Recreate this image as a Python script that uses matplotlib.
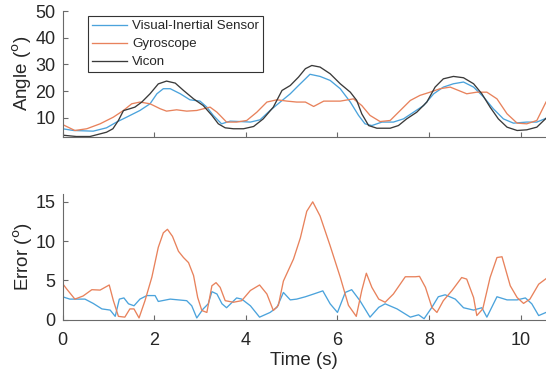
import matplotlib
matplotlib.use("Agg")
import matplotlib.pyplot as plt

plt.rcParams['font.family'] = ['Liberation Sans', 'DejaVu Sans']

# ---- Angle panel data ----
t_vicon = [0.0, 0.3, 0.6, 0.96, 1.1, 1.22, 1.33, 1.47, 1.58, 1.73, 1.91, 2.09, 2.27, 2.46, 2.64, 2.86,
           3.07, 3.26, 3.4, 3.55, 3.73, 3.95, 4.17, 4.38, 4.6, 4.79, 4.97, 5.15, 5.3, 5.44, 5.62,
           5.84, 6.06, 6.28, 6.42, 6.53, 6.68, 6.86, 7.15, 7.33, 7.51, 7.73, 7.95, 8.13, 8.31, 8.53,
           8.75, 8.97, 9.15, 9.33, 9.51, 9.7, 9.92, 10.13, 10.35, 10.55]
vicon = [3.5, 3.0, 3.0, 4.6, 5.9, 9.0, 12.7, 13.4, 14.0, 15.9, 19.0, 22.7, 23.75, 23.0, 20.25, 17.1,
         14.6, 10.9, 7.75, 6.25, 5.9, 5.9, 6.75, 9.6, 14.0, 20.25, 22.1, 25.25, 28.4, 29.6, 29.0,
         26.5, 22.75, 19.6, 16.5, 11.5, 7.1, 6.1, 6.1, 7.1, 9.6, 12.1, 15.9, 21.5, 24.6, 25.5,
         25.0, 22.75, 19.0, 14.0, 9.6, 6.5, 5.25, 5.5, 6.5, 9.8]

t_vis = [0.0, 0.24, 0.67, 0.96, 1.18, 1.4, 1.69, 1.91, 2.06, 2.2, 2.35, 2.57, 2.78, 3.0, 3.15, 3.29,
         3.47, 3.66, 3.88, 4.1, 4.31, 4.53, 4.75, 4.97, 5.15, 5.3, 5.4, 5.62, 5.84, 6.06, 6.28,
         6.46, 6.6, 6.75, 6.97, 7.22, 7.44, 7.66, 7.88, 8.1, 8.31, 8.53, 8.75, 8.97, 9.19, 9.4,
         9.62, 9.84, 10.13, 10.35, 10.55]
vis = [5.9, 5.25, 5.0, 6.25, 8.4, 10.25, 12.75, 15.25, 19.0, 20.9, 20.9, 19.0, 16.75, 16.25, 14.0, 10.9,
       7.75, 8.75, 8.6, 8.4, 9.25, 12.75, 15.9, 19.0, 22.1, 24.6, 26.3, 25.5, 24.0, 20.9, 15.9,
       10.9, 7.75, 7.1, 8.4, 8.4, 9.6, 12.1, 14.6, 19.0, 21.5, 22.75, 23.4, 21.5, 17.75, 13.4,
       9.6, 8.0, 8.4, 8.4, 9.8]

t_gyro = [0.0, 0.27, 0.53, 0.82, 1.11, 1.33, 1.51, 1.69, 1.91, 2.13, 2.27, 2.49, 2.71, 2.93, 3.22,
          3.37, 3.58, 3.8, 4.02, 4.24, 4.46, 4.68, 4.9, 5.11, 5.3, 5.48, 5.7, 6.06, 6.35, 6.53,
          6.71, 6.93, 7.15, 7.37, 7.59, 7.8, 8.02, 8.24, 8.46, 8.64, 8.82, 9.04, 9.26, 9.48, 9.7,
          9.92, 10.13, 10.35, 10.55]
gyro = [7.5, 5.25, 5.9, 7.75, 10.25, 12.75, 15.25, 15.9, 15.25, 13.4, 12.5, 13.0, 12.5, 12.75, 14.0,
        12.1, 8.4, 8.4, 9.0, 12.1, 15.9, 16.75, 16.25, 15.9, 15.9, 14.25, 16.25, 16.25, 17.1, 14.6,
        10.9, 8.6, 9.0, 12.75, 16.5, 18.4, 19.6, 20.9, 21.5, 20.25, 19.0, 19.6, 19.6, 17.1, 11.5,
        8.0, 7.75, 9.0, 15.9]

# ---- Error panel data ----
t_err_gyro = [0.0, 0.09, 0.27, 0.45, 0.64, 0.82, 1.02, 1.11, 1.22, 1.36, 1.47, 1.56, 1.67, 1.8, 1.95,
              2.09, 2.2, 2.29, 2.4, 2.53, 2.64, 2.75, 2.86, 2.95, 3.04, 3.15, 3.26, 3.35, 3.44, 3.55,
              3.73, 3.91, 4.1, 4.3, 4.46, 4.6, 4.71, 4.82, 5.04, 5.19, 5.33, 5.46, 5.62, 5.84, 6.06,
              6.24, 6.41, 6.53, 6.63, 6.75, 6.9, 7.04, 7.22, 7.48, 7.7, 7.79, 7.92, 8.06, 8.17, 8.31,
              8.5, 8.71, 8.82, 8.97, 9.04, 9.17, 9.33, 9.48, 9.59, 9.77, 9.92, 10.06, 10.2, 10.39, 10.55]
err_gyro = [4.6, 3.9, 2.6, 3.0, 3.8, 3.75, 4.4, 2.4, 0.4, 0.3, 1.35, 1.35, 0.2, 2.4, 5.4,
            9.2, 11.05, 11.5, 10.6, 8.7, 7.9, 7.25, 5.6, 2.8, 1.15, 0.9, 4.3, 4.7, 4.1, 2.4,
            2.2, 2.4, 3.7, 4.4, 3.25, 1.15, 1.8, 4.9, 7.7, 10.4, 13.8, 15.0, 13.2, 9.4, 5.4,
            1.8, 0.4, 3.7, 5.9, 4.1, 2.6, 2.2, 3.25, 5.45, 5.45, 5.5, 4.1, 1.55, 0.9, 2.4,
            3.7, 5.35, 5.15, 2.8, 0.5, 1.35, 5.35, 7.9, 8.0, 4.3, 2.8, 2.05, 2.6, 4.5, 5.2]

t_err_vis = [0.0, 0.16, 0.49, 0.67, 0.86, 1.04, 1.15, 1.24, 1.34, 1.44, 1.56, 1.69, 1.84, 2.02, 2.09,
             2.35, 2.71, 2.82, 2.93, 3.07, 3.18, 3.26, 3.37, 3.48, 3.58, 3.8, 3.91, 4.1, 4.3, 4.53,
             4.68, 4.82, 4.97, 5.11, 5.3, 5.48, 5.68, 5.84, 6.0, 6.17, 6.31, 6.49, 6.71, 6.9, 7.04,
             7.3, 7.59, 7.77, 7.89, 8.06, 8.2, 8.35, 8.57, 8.75, 8.97, 9.15, 9.26, 9.48, 9.7, 9.92,
             10.1, 10.24, 10.39, 10.55]
err_vis = [2.9, 2.6, 2.6, 2.05, 1.35, 1.2, 0.4, 2.6, 2.75, 2.0, 1.75, 2.6, 3.05, 3.05, 2.3,
           2.6, 2.4, 1.75, 0.2, 1.35, 2.0, 3.55, 3.25, 2.0, 1.5, 2.75, 2.6, 1.75, 0.3, 0.9,
           1.55, 3.45, 2.5, 2.6, 2.9, 3.25, 3.65, 2.0, 0.9, 3.45, 3.8, 2.4, 0.3, 1.55, 2.0,
           1.35, 0.3, 0.6, 0.1, 1.55, 2.9, 3.15, 2.6, 1.5, 1.2, 1.5, 0.3, 2.9, 2.5, 2.5,
           2.75, 2.0, 0.5, 0.9]

labels = ["Visual-Inertial Sensor", "Gyroscope", "Vicon"]
angle_yticks = [10, 20, 30, 40, 50]
err_yticks = [0, 5, 10, 15]
xticks = [0, 2, 4, 6, 8, 10]

c_blue = '#4ba3dc'
c_orange = '#e8825c'
c_black = '#3a3a3a'
txt = '#262626'
spine = '#6a6a6a'

fig = plt.figure(figsize=(5.46, 3.71), dpi=100)
W, H = 546, 371
ax1 = fig.add_axes([62.5 / W, 1 - 136.5 / H, (W - 62.5) / W, (136.5 - 11) / H])
ax2 = fig.add_axes([62.5 / W, 1 - 319.5 / H, (W - 62.5) / W, (319.5 - 194) / H])

lw = 0.95
ax1.plot(t_vis, vis, color=c_blue, lw=lw, label=labels[0])
ax1.plot(t_gyro, gyro, color=c_orange, lw=lw, label=labels[1])
ax1.plot(t_vicon, vicon, color=c_black, lw=lw, label=labels[2])
ax2.plot(t_err_vis, err_vis, color=c_blue, lw=lw)
ax2.plot(t_err_gyro, err_gyro, color=c_orange, lw=lw)

for ax in (ax1, ax2):
    ax.set_xlim(0, 10.55)
    ax.set_xticks(xticks)
    for s in ('top', 'right'):
        ax.spines[s].set_visible(False)
    for s in ('left', 'bottom'):
        ax.spines[s].set_color(spine)
        ax.spines[s].set_linewidth(0.8)
    ax.tick_params(direction='in', length=3.5, width=0.8, color=spine,
                   labelsize=13, labelcolor=txt)
    ax.tick_params(axis='y', pad=5)
    ax.tick_params(axis='x', pad=9)

ax1.set_ylim(3, 50)
ax1.set_yticks(angle_yticks)
ax1.tick_params(axis='x', labelbottom=False)
ax1.set_ylabel('Angle ($^{\\mathrm{o}}$)', fontsize=13.5, color=txt, labelpad=1)

ax2.set_ylim(0, 16)
ax2.set_yticks(err_yticks)
ax2.set_ylabel('Error ($^{\\mathrm{o}}$)', fontsize=13.5, color=txt, labelpad=0.5)
ax2.set_xlabel('Time (s)', fontsize=13.5, color=txt, labelpad=2)

leg = ax1.legend(loc='upper left', bbox_to_anchor=((88 - 62.5) / (W - 62.5), 1 - (16 - 11) / 125.5),
                 borderaxespad=0, fontsize=9.6, frameon=True, fancybox=False, framealpha=1,
                 edgecolor='#333333', handlelength=2.6, handletextpad=0.4, labelspacing=0.42,
                 borderpad=0.3)
leg.get_frame().set_linewidth(0.8)
for t in leg.get_texts():
    t.set_color(txt)

fig.savefig('out.png', dpi=100)
